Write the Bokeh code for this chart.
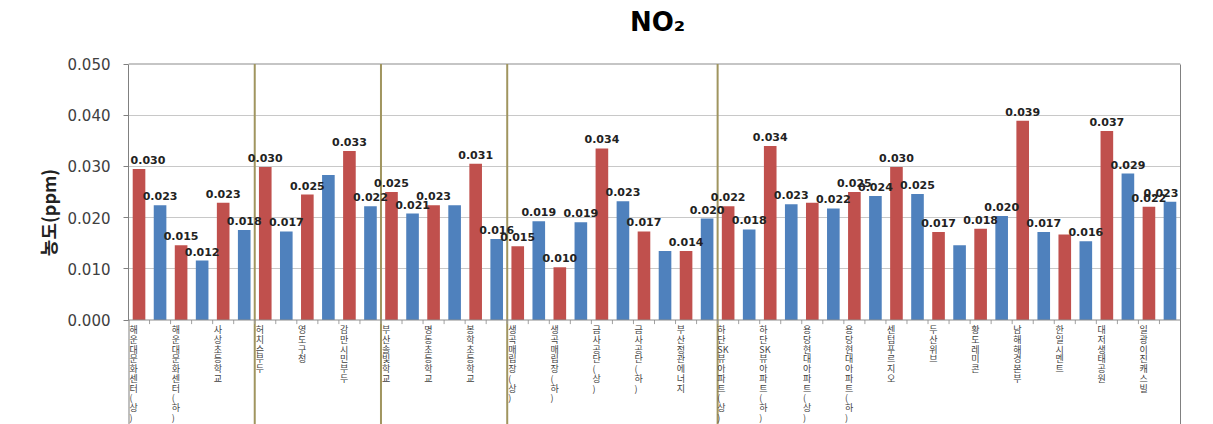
import re
from bokeh.plotting import figure
from bokeh.models import (Range1d, FixedTicker, NumeralTickFormatter, Span, LinearAxis,
                          ColumnDataSource, LabelSet, Label, Title)
from bokeh.core.properties import value
from bokeh.embed import file_html
from bokeh.resources import INLINE

# ---- data ----
title_text = "NO₂"
y_label = "농도(ppm)"
sites = ["해운대문화센터(상)", "해운대문화센터(하)", "사상초등학교",
         "허치슨부두", "영도구청", "감만시민부두",
         "부산솔빛학교", "명동초등학교", "봉학초등학교",
         "생곡매립장(상)", "생곡매립장(하)", "금사공단(상)", "금사공단(하)", "부산정관에너지",
         "하단SK뷰아파트(상)", "하단SK뷰아파트(하)", "용당현대아파트(상)", "용당현대아파트(하)",
         "센텀푸르지오", "두산위브", "황도레미콘", "남해해경본부", "한일시멘트", "대저생태공원", "일광이진캐스빌"]
red_vals = [0.0295, 0.0146, 0.0229, 0.0299, 0.0245, 0.0330, 0.0250, 0.0224, 0.0305,
            0.0144, 0.0103, 0.0335, 0.0173, 0.0135, 0.0222, 0.0340, 0.0229, 0.0250,
            0.0299, 0.0172, 0.0178, 0.0389, 0.0167, 0.0369, 0.0221]
blue_vals = [0.0224, 0.0116, 0.0176, 0.0173, 0.0283, 0.0222, 0.0208, 0.0224, 0.0158,
             0.0193, 0.0191, 0.0232, 0.0135, 0.0198, 0.0177, 0.0226, 0.0218, 0.0242,
             0.0246, 0.0146, 0.0203, 0.0172, 0.0154, 0.0286, 0.0231]
red_labels = ["0.030", "0.015", "0.023", "0.030", "0.025", "0.033", "0.025", "0.023", "0.031",
              "0.015", "0.010", "0.034", "0.017", "0.014", "0.022", "0.034", "", "0.025",
              "0.030", "0.017", "0.018", "0.039", "", "0.037", "0.022"]
blue_labels = ["0.023", "0.012", "0.018", "0.017", "", "0.022", "0.021", "", "0.016",
               "0.019", "0.019", "0.023", "", "0.020", "0.018", "0.023", "0.022", "0.024",
               "0.025", "", "0.020", "0.017", "0.016", "0.029", "0.023"]
y_ticks = [0.000, 0.010, 0.020, 0.030, 0.040, 0.050]
group_sizes = [3, 3, 3, 5, 11]

RED = "#c0504d"
BLUE = "#4f81bd"
AXIS = "#808080"

n = len(sites)
nbar = 2 * n
red_x = [2 * i for i in range(n)]
blue_x = [2 * i + 1 for i in range(n)]

W, H = 1213, 424
FRAME_TOP_PX = 63.5      # pixel row of the top value (0.050)
PX_PER_UNIT = 5120.0     # pixels per 1.0 ppm
y_top = y_ticks[-1]
y_max = y_top + FRAME_TOP_PX / PX_PER_UNIT
y_min = y_top - (H - FRAME_TOP_PX) / PX_PER_UNIT

p = figure(width=W, height=H, output_backend="svg", toolbar_location=None,
           x_range=Range1d(-0.5, nbar - 0.5), y_range=Range1d(y_min, y_max),
           x_axis_location=None, min_border_left=128, min_border_right=33,
           min_border_top=0, min_border_bottom=0)
p.outline_line_color = None
p.background_fill_color = "#ffffff"
p.border_fill_color = "#ffffff"

# title
p.add_layout(Label(x=(nbar - 1) / 2, y=y_top + (FRAME_TOP_PX - 33) / PX_PER_UNIT,
                   x_offset=3, y_offset=12,
                   text=title_text, text_align="center", text_baseline="alphabetic",
                   text_font="DejaVu Sans", text_font_size="26px", text_font_style="bold",
                   text_color="#000000"))

# grid
p.xgrid.visible = False
p.ygrid.ticker = FixedTicker(ticks=y_ticks[1:-1])
p.ygrid.grid_line_color = "#c8c8c8"

# y axis
p.yaxis.bounds = (y_ticks[0], y_top)
p.yaxis.ticker = FixedTicker(ticks=y_ticks)
p.yaxis.formatter = NumeralTickFormatter(format="0.000")
p.yaxis.major_label_text_font = "DejaVu Sans"
p.yaxis.major_label_text_font_size = "15px"
p.yaxis.major_label_text_color = "#404040"
p.yaxis.major_label_standoff = 13
p.yaxis.major_tick_out = 5
p.yaxis.major_tick_in = 0
p.yaxis.minor_tick_line_color = None
p.yaxis.axis_line_color = AXIS
p.yaxis.major_tick_line_color = AXIS

# y axis title (vertical, left of the tick labels)
p.add_layout(Title(text=y_label, align="center", text_font="Noto Sans CJK KR",
                   text_font_size="18px", text_font_style="bold", text_color="#222222",
                   standoff=8), "left")

right_axis = LinearAxis(ticker=FixedTicker(ticks=[]), major_label_text_font_size="0px",
                        major_tick_line_color=None, minor_tick_line_color=None,
                        axis_line_color=AXIS, bounds=(y_min, y_top))
p.add_layout(right_axis, "right")

# continuation of the left border through the label area
p.segment(x0=[-0.5], y0=[y_min], x1=[-0.5], y1=[0], line_color=AXIS, line_width=2)

# top border and zero line
p.segment(x0=[-0.5], y0=[y_top], x1=[nbar - 0.5], y1=[y_top], line_color="#8c8c8c", line_width=1.2)
p.add_layout(Span(location=0, dimension="width", line_color="#8c8c8c", line_width=1))

# group separators
c, sep = 0, []
for g in group_sizes[:-1]:
    c += g
    sep.append(2 * c - 0.5)
p.segment(x0=sep, y0=[y_min] * len(sep), x1=sep, y1=[y_top] * len(sep),
          line_color="#a0955f", line_width=2)

# category tick marks on x axis
bx = [b + 0.5 for b in range(nbar - 1)]
p.segment(x0=bx, y0=[0] * len(bx), x1=bx, y1=[-0.0008] * len(bx), line_color="#a0a0a0", line_width=1)

# bars
p.vbar(x=red_x, top=red_vals, width=0.6, fill_color=RED, line_color=None)
p.vbar(x=blue_x, top=blue_vals, width=0.6, fill_color=BLUE, line_color=None)

# data labels (nudged inward at the two frame edges so they are not clipped)
lx, ly, lt, lo = [], [], [], []
for i in range(n):
    for xx, vv, tt in ((red_x[i], red_vals[i], red_labels[i]), (blue_x[i], blue_vals[i], blue_labels[i])):
        if tt:
            lx.append(xx); ly.append(vv); lt.append(tt)
            lo.append(9 if xx == 0 else (-9 if xx == nbar - 1 else 0))
src = ColumnDataSource(dict(x=lx, y=ly, t=lt, o=lo))
p.add_layout(LabelSet(x="x", y="y", text="t", source=src, x_offset="o", text_align="center",
                      text_baseline="bottom", y_offset=5, text_font=value("DejaVu Sans"),
                      text_font_style="bold", text_font_size="11px", text_color="#222222"))

# category labels (vertical stacked, East-Asian style)
def stack(s):
    return "\n".join(re.findall(r"[A-Za-z]+|.", s))

cat_src = ColumnDataSource(dict(x=[2 * i - 0.25 for i in range(n)], y=[0] * n,
                                t=[stack(s) for s in sites]))
p.add_layout(LabelSet(x="x", y="y", text="t", source=cat_src, text_align="center",
                      text_baseline="top", y_offset=-3, text_font=value("Noto Sans CJK KR"),
                      text_font_size="9px", text_line_height=0.75, text_color="#404040"))

open("out.html", "w").write(file_html(p, INLINE))
